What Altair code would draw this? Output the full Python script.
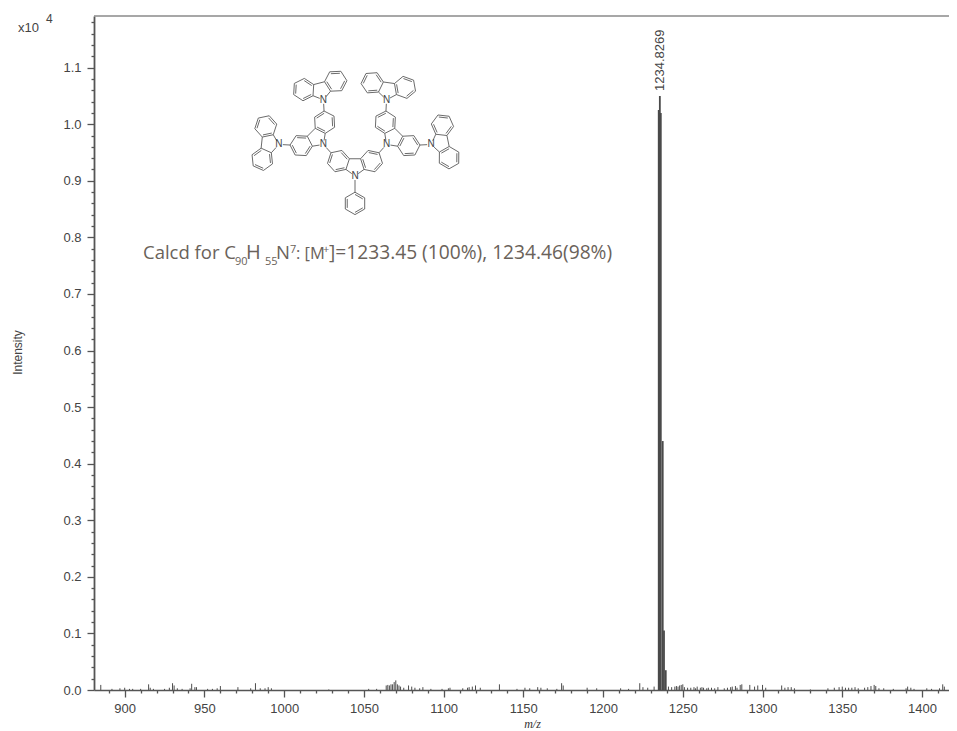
import math
import pandas as pd
import altair as alt

# ---------- chart values ----------
x_ticks = list(range(890, 1416, 10))
y_ticks = [round(i * 0.02, 2) for i in range(0, 60)]

peak_mz = [1234.9, 1235.6, 1236.2, 1237.4, 1238.2, 1239.3]
peak_int = [1.025, 1.05, 1.02, 0.44, 0.105, 0.035]

noise_mz = [885, 892, 897, 900, 903, 905, 910, 915, 916, 918, 925, 928, 930, 931, 933, 936, 941, 942, 944, 945,
            952, 955, 958, 960, 971, 979, 982, 985, 988, 990, 992, 1028, 1053, 1058, 1064, 1065, 1066, 1067, 1068,
            1069, 1070, 1071, 1072, 1073, 1075, 1078, 1080, 1082, 1085, 1087, 1092, 1099, 1103, 1104, 1112, 1115,
            1116, 1118, 1120, 1123, 1135, 1146, 1151, 1154, 1159, 1161, 1165, 1171, 1174, 1175, 1190, 1196, 1211,
            1216, 1223, 1225, 1228, 1232, 1241, 1243, 1245, 1246, 1247, 1248, 1249, 1250, 1251, 1253, 1255, 1257,
            1258, 1259, 1261, 1262, 1263, 1265, 1266, 1268, 1270, 1272, 1276, 1278, 1280, 1281, 1283, 1284, 1286,
            1287, 1292, 1295, 1297, 1300, 1302, 1312, 1314, 1316, 1318, 1320, 1330, 1341, 1345, 1348, 1350, 1352,
            1354, 1356, 1358, 1360, 1364, 1366, 1368, 1370, 1371, 1373, 1376, 1382, 1390, 1391, 1393, 1395, 1403,
            1406, 1411, 1413, 1414]
noise_int = [.009, .002, .003, .004, .002, .002, .002, .010, .004, .002, .002, .004, .012, .008, .003, .002, .003,
             .011, .005, .005, .002, .002, .003, .007, .005, .003, .012, .003, .003, .005, .003, .001, .002, .002,
             .008, .009, .008, .010, .010, .014, .017, .010, .008, .006, .004, .008, .006, .004, .003, .005, .002,
             .002, .003, .004, .003, .004, .005, .006, .008, .004, .010, .002, .004, .003, .005, .004, .003, .002,
             .012, .008, .004, .003, .003, .002, .012, .005, .004, .006, .006, .005, .006, .007, .006, .008, .009,
             .010, .005, .004, .004, .005, .003, .006, .004, .005, .004, .003, .004, .004, .003, .005, .003, .004,
             .005, .006, .007, .004, .009, .010, .009, .006, .008, .009, .004, .008, .004, .005, .005, .003, .001,
             .003, .004, .005, .006, .004, .004, .004, .005, .003, .004, .005, .007, .009, .007, .003, .003, .002,
             .003, .006, .004, .002, .003, .002, .003, .010, .006]

peak_label = "1234.8269"
formula_parts = ["Calcd for C", "90", "H", "55", "N", "7", ": [M", "+", "]=1233.45 (100%), 1234.46(98%)"]
formula_left = [143, 235, 246, 265, 276, 290, 296, 323, 329]
formula_base = [259, 265, 259, 265, 259, 253, 259, 253, 259]
formula_size = [18.5, 11, 20, 11, 18.5, 11, 16.5, 11, 19.2]

# ---------- frame of the plot ----------
PW, PH = 855, 674
X0, XS = 124.7, 1.5946
Y0, YS = 690.0, 565.8
xdom = [900 + (94 - X0) / XS, 900 + (949 - X0) / XS]
ydom = [0, (Y0 - 16) / YS]
INK = "#555555"


def to_data(p):
    return 900 + (p[0] - X0) / XS, (Y0 - p[1]) / YS


# ---------- structural formula, built from one ring template ----------
L = 11.2
segs, n_atoms = [], []


def add_seg(a, b, trim_a=0.0, trim_b=0.0):
    dx, dy = b[0] - a[0], b[1] - a[1]
    d = math.hypot(dx, dy)
    a2 = (a[0] + dx / d * trim_a, a[1] + dy / d * trim_a)
    b2 = (b[0] - dx / d * trim_b, b[1] - dy / d * trim_b)
    segs.append((a2, b2))


def add_hexagon(c, start):
    r = (start[0] - c[0], start[1] - c[1])
    verts = []
    for i in range(6):
        t = math.radians(60 * i)
        verts.append((c[0] + r[0] * math.cos(t) - r[1] * math.sin(t),
                      c[1] + r[0] * math.sin(t) + r[1] * math.cos(t)))
    for i in range(6):
        a, b = verts[i], verts[(i + 1) % 6]
        add_seg(a, b)
        if i % 2 == 0:
            ia = (a[0] + (c[0] - a[0]) * 0.2, a[1] + (c[1] - a[1]) * 0.2)
            ib = (b[0] + (c[0] - b[0]) * 0.2, b[1] + (c[1] - b[1]) * 0.2)
            add_seg(ia, ib)


def carbazole(n, d):
    n_atoms.append(n)
    norm = math.hypot(*d)
    d = (d[0] / norm, d[1] / norm)
    p = (-d[1], d[0])

    def loc(u, v):
        return (n[0] + (u * p[0] + v * d[0]) * L, n[1] + (u * p[1] + v * d[1]) * L)

    for s in (-1, 1):
        add_seg(n, loc(s * .809, .588), trim_a=4)
        add_hexagon(loc(s * 1.478, 1.331), loc(s * .809, .588))
    add_seg(loc(-.5, 1.539), loc(.5, 1.539))
    return [(loc(s * 2.147, 2.074), loc(s * 2.816, 2.817)) for s in (-1, 1)]


def link(pair):
    add_seg(pair[0], pair[1], trim_b=4)
    return pair[1]


N0 = (355.0, 176.0)
core = carbazole(N0, (0, -1))
arms = [carbazole(link(pair), (-1, -1) if pair[1][0] < N0[0] else (1, -1)) for pair in core]
for arm in arms:
    for pair in arm:
        end = link(pair)
        if end[0] < N0[0]:
            carbazole(end, (-13, -50) if end[1] < 120 else (-47, -5))
        else:
            carbazole(end, (7, -50) if end[1] < 120 else (49, -10))
ph_c = (N0[0], N0[1] + 27.4)
add_seg(N0, (N0[0], ph_c[1] - L), trim_a=4)
add_hexagon(ph_c, (N0[0], ph_c[1] - L))

bonds = pd.DataFrame([
    dict(zip(("x", "y", "x2", "y2"), to_data(a) + to_data(b))) for a, b in segs
])
atoms = pd.DataFrame([dict(zip(("x", "y"), to_data(p))) for p in n_atoms]).assign(t="N")

# ---------- scales and axes ----------
xscale = alt.Scale(domain=xdom, nice=False, zero=False)
yscale = alt.Scale(domain=ydom, nice=False, zero=False)
x_axis = alt.Axis(
    values=x_ticks, grid=False, title="m/z", titleFont="Liberation Serif", titleFontStyle="italic",
    titleFontWeight="normal", titleFontSize=12, titleColor="#333333", titleX=438, titleY=37,
    titleBaseline="alphabetic",
    labelExpr="datum.value % 50 == 0 ? format(datum.value, 'd') : ''",
    labelFont="Liberation Sans", labelFontSize=13, labelColor="#444444", labelPadding=5, labelFlush=False,
    labelOverlap=False, labelBound=False, tickColor=INK, tickWidth=1.3, domainColor=INK, domainWidth=1.6,
    tickSize={"condition": {"test": "datum.value % 50 == 0", "value": 7}, "value": 3},
)
y_axis = alt.Axis(
    values=y_ticks, grid=False, title="Intensity", titleFont="Liberation Sans", titleFontWeight="normal",
    titleFontSize=12, titleColor="#444444", titleX=-70, titleY=336, titleAngle=270,
    labelExpr="round(datum.value * 100) % 10 == 0 ? format(datum.value, '.1f') : ''",
    labelFont="Liberation Sans", labelFontSize=13, labelColor="#444444", labelPadding=6,
    labelOverlap=False, labelBound=False, tickColor=INK, tickWidth=1.3, domainColor=INK, domainWidth=1.8,
    tickSize={"condition": {"test": "round(datum.value * 100) % 10 == 0", "value": 7}, "value": 3},
)


def X(field):
    return alt.X(field, scale=xscale, axis=x_axis)


def Y(field):
    return alt.Y(field, scale=yscale, axis=y_axis)


noise = pd.DataFrame({"mz": noise_mz, "i": noise_int, "b": 0.0})
peaks = pd.DataFrame({"mz": peak_mz, "i": peak_int, "b": 0.0})

noise_layer = alt.Chart(noise).mark_rule(color="#4d4d4d", strokeWidth=1).encode(
    x=X("mz:Q"), y=Y("i:Q"), y2="b:Q"
)
peak_layer = alt.Chart(peaks).mark_rule(color="#4a4a4a", strokeWidth=1.8).encode(
    x=X("mz:Q"), y=Y("i:Q"), y2="b:Q"
)
top_line = alt.Chart(pd.DataFrame({"v": [ydom[1]]})).mark_rule(color="#8a8a8a", strokeWidth=1.6).encode(
    y=Y("v:Q"), x=alt.value(0), x2=alt.value(PW)
)
peak_text = alt.Chart(pd.DataFrame({"mz": [peak_mz[1]], "i": [peak_int[1]], "t": [peak_label]})).mark_text(
    angle=270, align="left", baseline="middle", dx=5, font="Liberation Sans", fontSize=13, color="#444444"
).encode(x=X("mz:Q"), y=Y("i:Q"), text="t:N")

bond_layer = alt.Chart(bonds).mark_rule(color="#5a5a5a", strokeWidth=0.9).encode(
    x=X("x:Q"), y=Y("y:Q"), x2="x2:Q", y2="y2:Q"
)
atom_layer = alt.Chart(atoms).mark_text(font="Liberation Sans", fontSize=10, color="#444444").encode(
    x=X("x:Q"), y=Y("y:Q"), text="t:N"
)

formula_layers = [
    alt.Chart(pd.DataFrame({"t": [t]})).mark_text(
        align="left", baseline="alphabetic", font="Open Sans", fontSize=s, color="#6a625a"
    ).encode(x=alt.value(px - 94), y=alt.value(py - 16), text="t:N")
    for t, px, py, s in zip(formula_parts, formula_left, formula_base, formula_size)
]
exp_layers = [
    alt.Chart(pd.DataFrame({"t": [t]})).mark_text(
        align="left", baseline="alphabetic", font="Liberation Sans", fontSize=s, color="#444444"
    ).encode(x=alt.value(px - 94), y=alt.value(py - 16), text="t:N")
    for t, px, py, s in [("x10", 18, 32, 13), ("4", 46, 23, 12)]
]

chart = alt.layer(
    noise_layer, peak_layer, top_line, peak_text, bond_layer, atom_layer, *formula_layers, *exp_layers
).properties(
    width=PW, height=PH,
    padding={"left": 86, "top": 8, "right": 0, "bottom": 40},
    autosize=alt.AutoSizeParams(type="none"),
).configure_view(stroke=None).configure_axis(labelOverlap=False)

chart.save("out.html", embed_options={"renderer": "svg", "actions": False})
